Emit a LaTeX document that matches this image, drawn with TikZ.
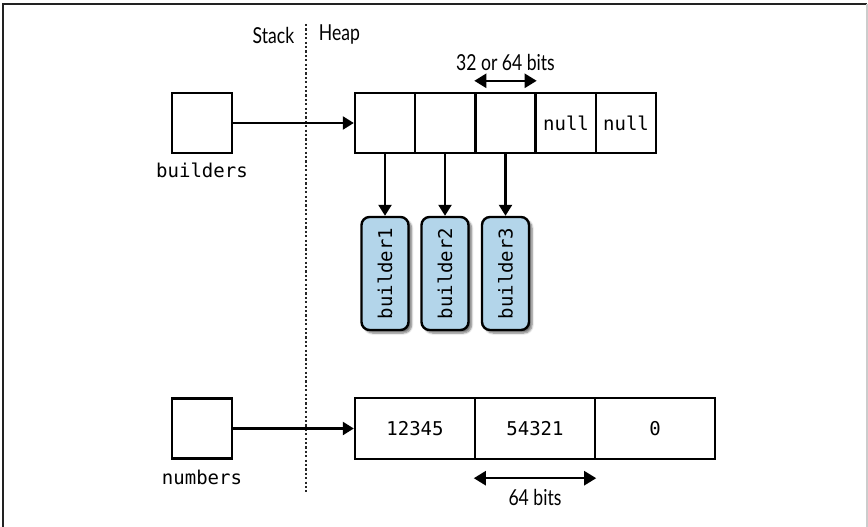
\documentclass[tikz,border=0pt]{standalone}
\usepackage{fontspec}
\setmainfont{Lato}[FakeStretch=0.8]
\newfontfamily\monof{DejaVu Sans Mono}
\usetikzlibrary{arrows.meta,shadows.blur}
\definecolor{bfill}{HTML}{B3D5EA}
\definecolor{frameline}{HTML}{222222}
\begin{document}
\begin{tikzpicture}[x=1pt,y=-1pt,
  cell/.style={draw, line width=2.4pt, minimum width=60pt, minimum height=60pt, inner sep=0pt,
    font=\monof\fontsize{19}{21}\selectfont},
  wcell/.style={cell, minimum width=120pt, minimum height=61pt},
  bbox/.style={draw, line width=2.4pt, fill=bfill, rounded corners=8pt, rotate=90,
    minimum width=113pt, minimum height=47pt, inner sep=0pt,
    font=\monof\fontsize{19}{21}\selectfont,
    blur shadow={shadow xshift=3pt, shadow yshift=-3pt, shadow blur steps=6, shadow opacity=55}},
  lbl/.style={font=\monof\fontsize{19}{21}\selectfont, inner sep=0pt},
  hd/.style={font=\fontsize{22}{25}\selectfont, inner sep=0pt},
  arr/.style={-{Triangle[length=11pt,width=13pt]}, line width=2.4pt},
  dbl/.style={{Triangle[length=12pt,width=14pt]}-{Triangle[length=12pt,width=14pt]}, line width=2.4pt}
]
\useasboundingbox (0,0) rectangle (868,527);
% frame
\draw[line width=2pt, frameline] (3,527) -- (3,4) -- (867,4);
\draw[line width=1.5pt, black!20] (867,4) -- (867,527);

% stack / heap divider
\coordinate (dtop) at (306,24);
\coordinate (dbot) at (306,492);
\draw[line width=2.4pt, dash pattern=on 2.2pt off 2.2pt, black!85] (dtop) -- (dbot);
\node[hd, anchor=center] (stack) at (273.5,35) {Stack};
\node[hd, anchor=center] (heap) at (339.5,35) {Heap};

% builders
\node[cell] (builders) at (202,123) {};
\node[lbl] (bl) at (202,170) {builders};
\node[cell] (c1) at (385,123) {};
\node[cell] (c2) at (445,123) {};
\node[cell] (c3) at (505.5,123) {};
\node[cell] (c4) at (566,123) {null};
\node[cell] (c5) at (626,123) {null};
\draw[arr] (builders.east) -- (c1.west);

\node[hd] (w32) at (505.5,62) {32 or 64 bits};
\coordinate (a1) at ([yshift=11pt]c3.north west);
\coordinate (a2) at ([yshift=11pt]c3.north east);
\draw[dbl] (a1) -- (a2);

\node[bbox] (b1) at (385,273.5) {builder1};
\node[bbox] (b2) at (445,273.5) {builder2};
\node[bbox] (b3) at (505.5,273.5) {builder3};
\draw[arr] (c1.south) -- (b1);
\draw[arr] (c2.south) -- (b2);
\draw[arr] (c3.south) -- (b3);

% numbers
\node[cell] (numbers) at (202,428.5) {};
\node[lbl] (nl) at (202,477) {numbers};
\node[wcell] (n1) at (415,428.5) {12345};
\node[wcell] (n2) at (535,428.5) {54321};
\node[wcell] (n3) at (655,428.5) {0};
\draw[arr] (numbers.east) -- (n1.west);
\coordinate (b1a) at ([yshift=-18pt]n2.south west);
\coordinate (b2a) at ([yshift=-18pt]n2.south east);
\draw[dbl] (b1a) -- (b2a);
\node[hd] (w64) at (535,497) {64 bits};
\end{tikzpicture}
\end{document}
